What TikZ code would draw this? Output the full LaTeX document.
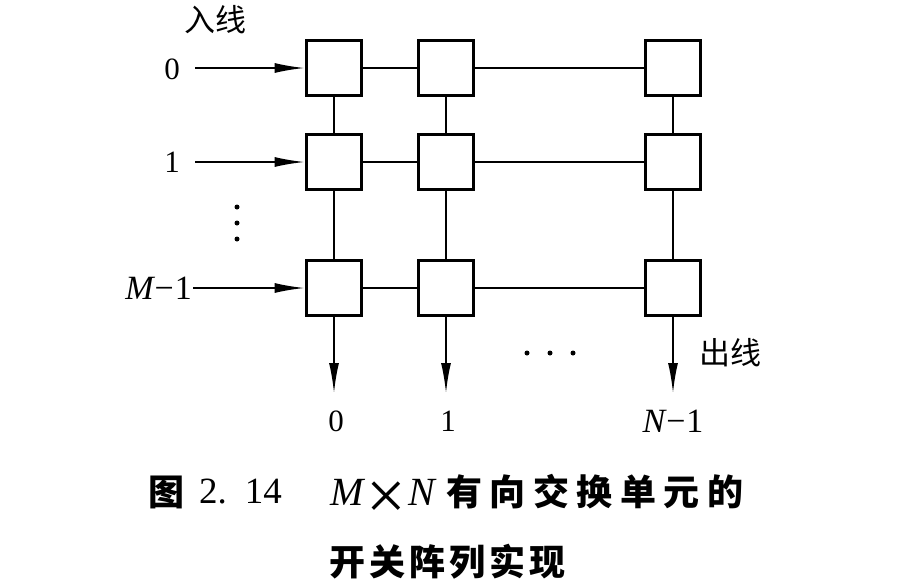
\documentclass[tikz,border=0pt]{standalone}
\usepackage{fontspec}
\setmainfont{Liberation Serif}
\newfontfamily\cjk{Noto Sans CJK SC}
\usetikzlibrary{arrows.meta}
\begin{document}
\begin{tikzpicture}[x=1pt,y=-1pt,
  cell/.style={draw, line width=3.8pt, minimum size=55pt, inner sep=0pt},
  wire/.style={line width=1.8pt},
  feed/.style={wire, -{Latex[length=30pt,width=10pt]}},
  num/.style={font=\fontsize{31}{31}\selectfont, inner sep=0pt},
  varnum/.style={font=\fontsize{34}{34}\selectfont, inner sep=0pt},
  hanzi/.style={font=\cjk\fontsize{31}{31}\selectfont, inner sep=0pt},
  captxt/.style={font=\cjk\bfseries\fontsize{36}{36}\selectfont, inner sep=0pt},
  capnum/.style={font=\fontsize{37}{37}\selectfont, inner sep=0pt},
  capvar/.style={font=\itshape\fontsize{40}{40}\selectfont, inner sep=0pt},
  dot/.style={fill=black, circle, inner sep=0pt, minimum size=5pt}]
\useasboundingbox (0,0) rectangle (898,584);

% switching cells: rows 0, 1, M-1 and columns 0, 1, N-1
\foreach \r/\y in {0/68, 1/162, 2/288}
  \foreach \c/\x in {0/334, 1/446, 2/673}
    \node[cell] (c\r\c) at (\x,\y) {};

% horizontal links along each row
\foreach \r in {0,1,2} {
  \draw[wire] (c\r0) -- (c\r1);
  \draw[wire] (c\r1) -- (c\r2);
}
% vertical links down each column
\foreach \c in {0,1,2} {
  \draw[wire] (c0\c) -- (c1\c);
  \draw[wire] (c1\c) -- (c2\c);
}

% input lines
\node[hanzi] (inlbl) at (215,20) {入线};
\node[num] (in0) at (172,69) {0};
\node[num] (in1) at (172,162) {1};
\node[varnum, anchor=east] (in2) at (192,288) {\itshape M\upshape \kern1pt−\kern1pt1};
\coordinate (s0) at (195,68);
\coordinate (s1) at (195,162);
\draw[feed] (s0) -- (c00);
\draw[feed] (s1) -- (c10);
\draw[feed] ([xshift=1pt]in2.east |- c20) -- (c20);

% vertical ellipsis between input rows
\node[dot] (vd1) at (237,207) {};
\node[dot] (vd2) at (237,223) {};
\node[dot] (vd3) at (237,239) {};

% output lines
\coordinate (e0) at (334,393);
\coordinate (e1) at (446,393);
\coordinate (e2) at (673,393);
\draw[feed] (c20) -- (e0);
\draw[feed] (c21) -- (e1);
\draw[feed] (c22) -- (e2);
\node[num] (out0) at (336,421) {0};
\node[num] (out1) at (448,421) {1};
\node[varnum] (out2) at (673,421) {\itshape N\upshape \kern1pt−\kern1pt1};
\node[hanzi] (outlbl) at (730,353) {出线};

% horizontal ellipsis between output columns
\node[dot] (hd1) at (527,353) {};
\node[dot] (hd2) at (550,353) {};
\node[dot] (hd3) at (573,353) {};

% caption
\node[captxt] (fig) at (166,492) {图};
\node[capnum, anchor=west] (fignum) at (199,492) {2.\kern18pt 14};
\node[capvar] (capm) at (347,492) {M};
\node[capnum] (captimes) at (386,501) {\scalebox{1.9}{×}};
\node[capvar] (capn) at (422,492) {N};
\node[captxt, anchor=west] (cap1) at (446,492) {有\kern7.5pt向\kern7.5pt交\kern7.5pt换\kern7.5pt单\kern7.5pt元\kern7.5pt的};
\node[captxt, anchor=west] (cap2) at (329,562) {开\kern4pt关\kern4pt阵\kern4pt列\kern4pt实\kern4pt现};
\end{tikzpicture}
\end{document}
